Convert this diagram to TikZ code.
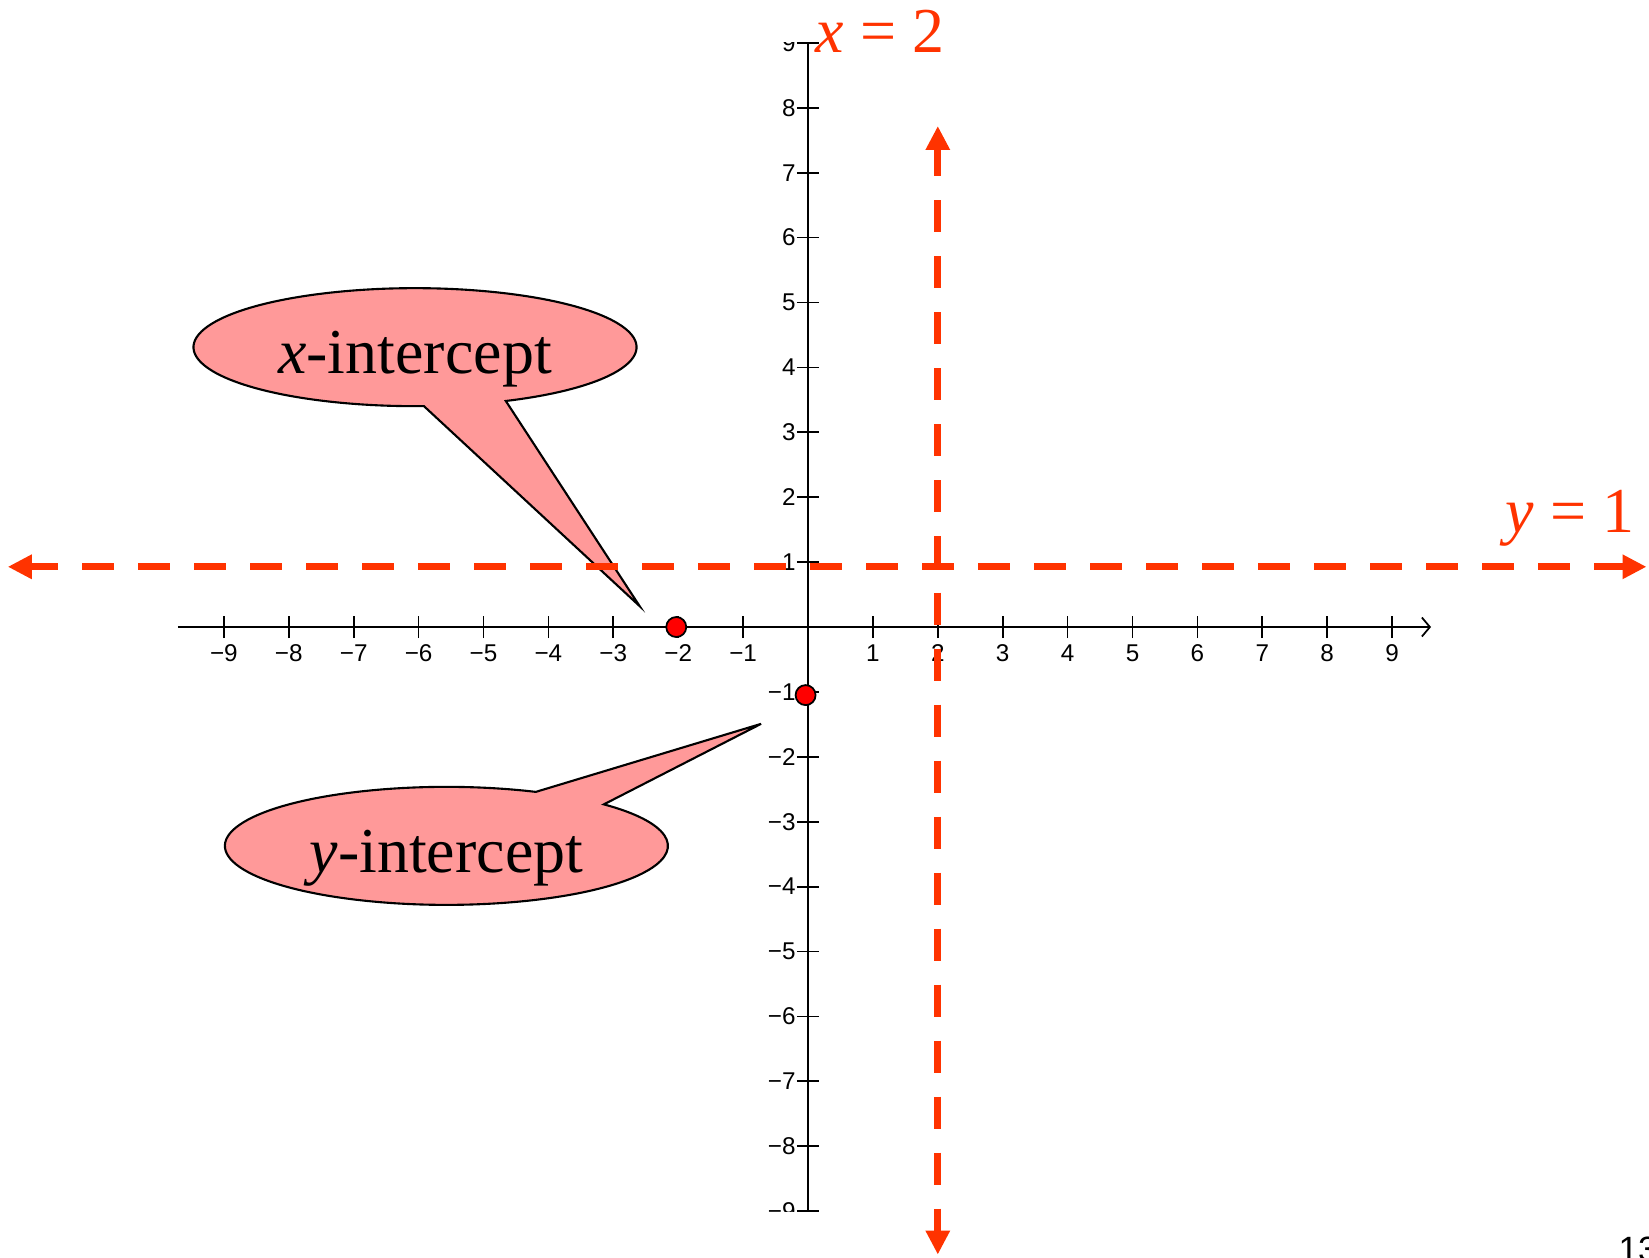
\documentclass[tikz,border=0pt]{standalone}
\usepackage{fontspec}
\setmainfont{Liberation Serif}
\newfontfamily\axisfont{Liberation Sans}
\usetikzlibrary{arrows.meta}
\definecolor{asymp}{HTML}{FF3300}
\definecolor{bubble}{HTML}{FF9999}
\newcommand{\signednum}[1]{\ifnum#1<0 −\number-#1\else#1\fi}
\begin{document}
\begin{tikzpicture}[x=0.649cm,y=0.649cm,
  axisline/.style={line width=0.5pt,black},
  tk/.style={line width=0.5pt,black},
  num/.style={font=\axisfont\fontsize{6.9}{8}\selectfont,inner sep=0pt},
  asy/.style={asymp,line width=2.1pt,dash pattern=on 0.32cm off 0.24cm,dash phase=0.04cm,
    {Triangle[length=0.24cm,width=0.23cm]}-{Triangle[length=0.24cm,width=0.23cm]}},
  eqn/.style={text=asymp,font=\fontsize{18.2}{22}\selectfont,inner sep=0pt,anchor=base west},
  bub/.style={draw,line width=0.6pt,line join=miter,fill=bubble},
  bubtext/.style={inner sep=0pt,text height=0.53cm,text depth=0pt,font=\fontsize{18.2}{22}\selectfont},
  ptmark/.style={circle,draw,line width=0.5pt,fill=red,minimum size=0.2cm,inner sep=0pt}]
  \useasboundingbox (-8.08cm,-6.30cm) rectangle (8.41cm,6.27cm);
  \clip (-8.08cm,-6.30cm) rectangle (8.41cm,6.27cm);
  % x axis
  \draw[axisline,-{Straight Barb[length=0.8mm,width=1.9mm]}] (-9.71,0) -- (9.6,0);
  \foreach \n [count=\i] in {-9,...,-1,1,2,...,9}{
    \draw[tk] (\n,-0.17) -- (\n,0.17);
    \node[num] (xl\i) at (\n,-0.40) {\signednum{\n}};
  }
  % y axis, cut at the top and bottom as in the picture
  \begin{scope}
    \clip (-1,-9) rectangle (1,9);
    \draw[axisline] (0,-9.3) -- (0,9.3);
    \foreach \n [count=\i] in {-9,...,-1,1,2,...,9}{
      \draw[tk] (-0.17,\n) -- (0.17,\n);
      \node[num,anchor=east] (yl\i) at (-0.18,\n) {\signednum{\n}};
    }
  \end{scope}
  % callouts: ellipse outline with its pointer in one path
  \coordinate (xc) at (-6.055,4.312);
  \coordinate (xtip) at (-2.595,0.323);
  \draw[bub] ([shift={(-65.8:2.215cm and 0.59cm)}]xc)
    arc[start angle=-65.8,end angle=272.3,x radius=2.215cm,y radius=0.59cm] -- (xtip) -- cycle;
  \node[bubtext] (xint) at (xc) {\textit{x}-intercept};
  \coordinate (yc) at (-5.571,-3.372);
  \coordinate (ytip) at (-0.723,-1.492);
  \draw[bub] ([shift={(66.2:2.215cm and 0.59cm)}]yc)
    arc[start angle=66.2,end angle=404.7,x radius=2.215cm,y radius=0.59cm] -- (ytip) -- cycle;
  \node[bubtext] (yint) at (yc) {\textit{y}-intercept};
  % asymptotes
  \coordinate (vtop) at (2,7.72);
  \coordinate (vbot) at (2,-9.67);
  \draw[asy] (vtop) -- (vbot);
  \coordinate (hleft) at (-12.33,0.928);
  \coordinate (hright) at (12.92,0.928);
  \draw[asy] (hleft) -- (hright);
  % intercepts
  \node[ptmark] (xpt) at (-2.03,0) {};
  \node[ptmark] (ypt) at (-0.037,-1.049) {};
  \node[eqn] (xeq) at (0.108,8.85) {\textit{x} = 2};
  \node[eqn] (yeq) at (10.74,1.46) {\textit{y} = 1};
  \node[font=\axisfont\fontsize{10}{12}\selectfont,anchor=base west,inner sep=0pt] (pagenum) at (12.48,-9.78) {13};
\end{tikzpicture}
\end{document}
